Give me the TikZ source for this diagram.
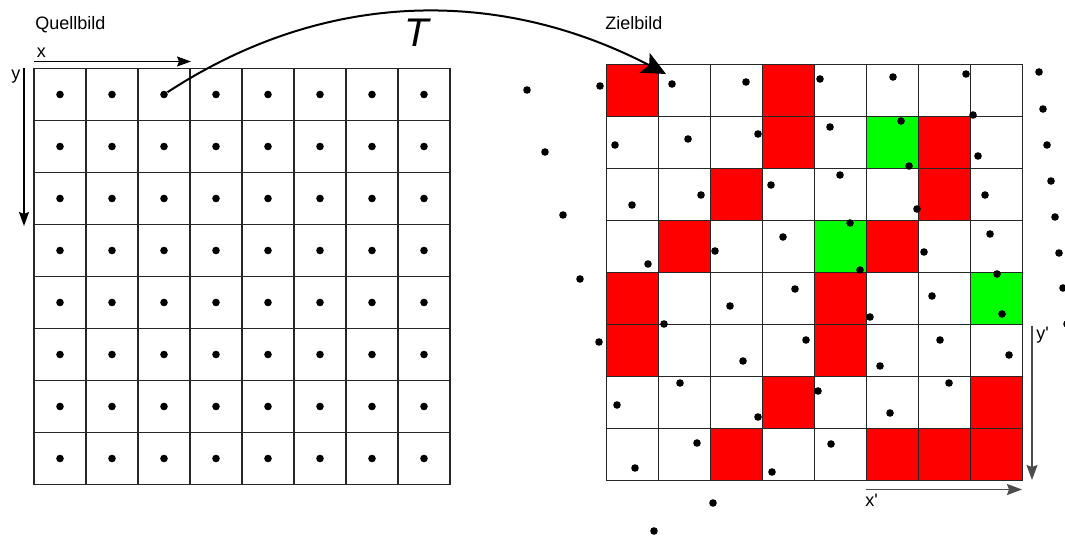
\documentclass[tikz,border=0pt]{standalone}
\usepackage{fontspec}
\setmainfont{Liberation Sans}
\usetikzlibrary{arrows.meta}

\begin{document}
\begin{tikzpicture}[x=0.5pt, y=-0.5pt,
    dot/.style={circle, fill=black, inner sep=0pt, minimum size=3.8pt},
    gridline/.style={black!85, line width=0.6pt},
    redcell/.style={fill=red},
    greencell/.style={fill=green},
    axis/.style={black, line width=0.6pt, -{Stealth[length=7pt, width=5pt, inset=1pt]}},
    axisb/.style={black!70, line width=0.75pt, -{Stealth[length=7.5pt, width=5.5pt, inset=1pt]}},
    mapping/.style={black, line width=1pt, -{Stealth[length=12pt, width=11pt, inset=2.5pt]}},
    lbl/.style={inner sep=0pt, anchor=base west, font=\fontsize{9}{11}\selectfont}]
    \useasboundingbox (0,0) rectangle (1065,539);
            % Zielbild: colored cells
            \fill[redcell] (606.5,64.5) rectangle +(52,52);
            \fill[redcell] (762.5,64.5) rectangle +(52,52);
            \fill[redcell] (762.5,116.5) rectangle +(52,52);
            \fill[greencell] (866.5,116.5) rectangle +(52,52);
            \fill[redcell] (918.5,116.5) rectangle +(52,52);
            \fill[redcell] (710.5,168.5) rectangle +(52,52);
            \fill[redcell] (918.5,168.5) rectangle +(52,52);
            \fill[redcell] (658.5,220.5) rectangle +(52,52);
            \fill[greencell] (814.5,220.5) rectangle +(52,52);
            \fill[redcell] (866.5,220.5) rectangle +(52,52);
            \fill[redcell] (606.5,272.5) rectangle +(52,52);
            \fill[redcell] (814.5,272.5) rectangle +(52,52);
            \fill[greencell] (970.5,272.5) rectangle +(52,52);
            \fill[redcell] (606.5,324.5) rectangle +(52,52);
            \fill[redcell] (814.5,324.5) rectangle +(52,52);
            \fill[redcell] (762.5,376.5) rectangle +(52,52);
            \fill[redcell] (970.5,376.5) rectangle +(52,52);
            \fill[redcell] (710.5,428.5) rectangle +(52,52);
            \fill[redcell] (866.5,428.5) rectangle +(52,52);
            \fill[redcell] (918.5,428.5) rectangle +(52,52);
            \fill[redcell] (970.5,428.5) rectangle +(52,52);
            % both grids
            \foreach \k in {0,...,8} {
                \draw[gridline] (34+52*\k,68.5) -- (34+52*\k,484.5);
                \draw[gridline] (34,68.5+52*\k) -- (450,68.5+52*\k);
                \draw[gridline] (606.5+52*\k,64.5) -- (606.5+52*\k,480.5);
                \draw[gridline] (606.5,64.5+52*\k) -- (1022.5,64.5+52*\k);
            }
            % Quellbild: sample points
            \node[dot] (s11) at (60,94.5) {};
            \node[dot] (s12) at (112,94.5) {};
            \node[dot] (s13) at (164,94.5) {};
            \node[dot] (s14) at (216,94.5) {};
            \node[dot] (s15) at (268,94.5) {};
            \node[dot] (s16) at (320,94.5) {};
            \node[dot] (s17) at (372,94.5) {};
            \node[dot] (s18) at (424,94.5) {};
            \node[dot] (s21) at (60,146.5) {};
            \node[dot] (s22) at (112,146.5) {};
            \node[dot] (s23) at (164,146.5) {};
            \node[dot] (s24) at (216,146.5) {};
            \node[dot] (s25) at (268,146.5) {};
            \node[dot] (s26) at (320,146.5) {};
            \node[dot] (s27) at (372,146.5) {};
            \node[dot] (s28) at (424,146.5) {};
            \node[dot] (s31) at (60,198.5) {};
            \node[dot] (s32) at (112,198.5) {};
            \node[dot] (s33) at (164,198.5) {};
            \node[dot] (s34) at (216,198.5) {};
            \node[dot] (s35) at (268,198.5) {};
            \node[dot] (s36) at (320,198.5) {};
            \node[dot] (s37) at (372,198.5) {};
            \node[dot] (s38) at (424,198.5) {};
            \node[dot] (s41) at (60,250.5) {};
            \node[dot] (s42) at (112,250.5) {};
            \node[dot] (s43) at (164,250.5) {};
            \node[dot] (s44) at (216,250.5) {};
            \node[dot] (s45) at (268,250.5) {};
            \node[dot] (s46) at (320,250.5) {};
            \node[dot] (s47) at (372,250.5) {};
            \node[dot] (s48) at (424,250.5) {};
            \node[dot] (s51) at (60,302.5) {};
            \node[dot] (s52) at (112,302.5) {};
            \node[dot] (s53) at (164,302.5) {};
            \node[dot] (s54) at (216,302.5) {};
            \node[dot] (s55) at (268,302.5) {};
            \node[dot] (s56) at (320,302.5) {};
            \node[dot] (s57) at (372,302.5) {};
            \node[dot] (s58) at (424,302.5) {};
            \node[dot] (s61) at (60,354.5) {};
            \node[dot] (s62) at (112,354.5) {};
            \node[dot] (s63) at (164,354.5) {};
            \node[dot] (s64) at (216,354.5) {};
            \node[dot] (s65) at (268,354.5) {};
            \node[dot] (s66) at (320,354.5) {};
            \node[dot] (s67) at (372,354.5) {};
            \node[dot] (s68) at (424,354.5) {};
            \node[dot] (s71) at (60,406.5) {};
            \node[dot] (s72) at (112,406.5) {};
            \node[dot] (s73) at (164,406.5) {};
            \node[dot] (s74) at (216,406.5) {};
            \node[dot] (s75) at (268,406.5) {};
            \node[dot] (s76) at (320,406.5) {};
            \node[dot] (s77) at (372,406.5) {};
            \node[dot] (s78) at (424,406.5) {};
            \node[dot] (s81) at (60,458.5) {};
            \node[dot] (s82) at (112,458.5) {};
            \node[dot] (s83) at (164,458.5) {};
            \node[dot] (s84) at (216,458.5) {};
            \node[dot] (s85) at (268,458.5) {};
            \node[dot] (s86) at (320,458.5) {};
            \node[dot] (s87) at (372,458.5) {};
            \node[dot] (s88) at (424,458.5) {};
            % Zielbild: transformed points
            \node[dot] (t11) at (527,90) {};
            \node[dot] (t12) at (600,86) {};
            \node[dot] (t13) at (672,84) {};
            \node[dot] (t14) at (746,82) {};
            \node[dot] (t15) at (820,79) {};
            \node[dot] (t16) at (893,77) {};
            \node[dot] (t17) at (966,74) {};
            \node[dot] (t18) at (1039,72) {};
            \node[dot] (t21) at (545,152) {};
            \node[dot] (t22) at (615,145) {};
            \node[dot] (t23) at (688,139) {};
            \node[dot] (t24) at (758,134) {};
            \node[dot] (t25) at (830,127) {};
            \node[dot] (t26) at (901,121) {};
            \node[dot] (t27) at (973,115) {};
            \node[dot] (t28) at (1043,109) {};
            \node[dot] (t31) at (563,215) {};
            \node[dot] (t32) at (632,205) {};
            \node[dot] (t33) at (701,195) {};
            \node[dot] (t34) at (771,185) {};
            \node[dot] (t35) at (840,175) {};
            \node[dot] (t36) at (909,166) {};
            \node[dot] (t37) at (978,156) {};
            \node[dot] (t38) at (1047,145) {};
            \node[dot] (t41) at (580,279) {};
            \node[dot] (t42) at (648,264) {};
            \node[dot] (t43) at (715,251) {};
            \node[dot] (t44) at (783,237) {};
            \node[dot] (t45) at (850,223) {};
            \node[dot] (t46) at (917,209) {};
            \node[dot] (t47) at (985,195) {};
            \node[dot] (t48) at (1051,181) {};
            \node[dot] (t51) at (599,342) {};
            \node[dot] (t52) at (664,324) {};
            \node[dot] (t53) at (730,306) {};
            \node[dot] (t54) at (795,289) {};
            \node[dot] (t55) at (860,270) {};
            \node[dot] (t56) at (924,252) {};
            \node[dot] (t57) at (990,234) {};
            \node[dot] (t58) at (1055,217) {};
            \node[dot] (t61) at (617,405) {};
            \node[dot] (t62) at (680,383) {};
            \node[dot] (t63) at (743,361) {};
            \node[dot] (t64) at (806,340) {};
            \node[dot] (t65) at (870,317) {};
            \node[dot] (t66) at (932,296) {};
            \node[dot] (t67) at (997,274) {};
            \node[dot] (t68) at (1059,253) {};
            \node[dot] (t71) at (635,468) {};
            \node[dot] (t72) at (697,443) {};
            \node[dot] (t73) at (758,417) {};
            \node[dot] (t74) at (818,391) {};
            \node[dot] (t75) at (880,366) {};
            \node[dot] (t76) at (940,340) {};
            \node[dot] (t77) at (1002,314) {};
            \node[dot] (t78) at (1063,288) {};
            \node[dot] (t81) at (654,531) {};
            \node[dot] (t82) at (713,503) {};
            \node[dot] (t83) at (772,472) {};
            \node[dot] (t84) at (831,444) {};
            \node[dot] (t85) at (890,413) {};
            \node[dot] (t86) at (949,383) {};
            \node[dot] (t87) at (1009,355) {};
            \node[dot] (t88) at (1067,324) {};
            % axes
            \coordinate (xs) at (34,61.5);
            \coordinate (xe) at (191,61.5);
            \coordinate (ys) at (24,68.5);
            \coordinate (ye) at (24,226);
            \coordinate (ys2) at (1032,326);
            \coordinate (ye2) at (1032,480);
            \coordinate (xs2) at (865.5,489.5);
            \coordinate (xe2) at (1022,489.5);
            \draw[axis] (xs) -- (xe);
            \draw[axis] (ys) -- (ye);
            \draw[axisb] (ys2) -- (ye2);
            \draw[axisb] (xs2) -- (xe2);
            \node[lbl] (xl) at (36.5,57.5) {x};
            \node[lbl] (yl) at (11,79.5) {y};
            \node[lbl] (yl2) at (1036,340) {y\textquotesingle};
            \node[lbl] (xl2) at (865,506) {x\textquotesingle};
            \node[lbl] (quelle) at (35,29.5) {Quellbild};
            \node[lbl] (ziel) at (605,30) {Zielbild};
            % mapping T
            \coordinate (tip) at (666,74);
            \draw[mapping] (s13) .. controls (330,-14) and (505,-10) .. (tip);
            \node[inner sep=0pt, anchor=base west, font=\fontsize{20}{24}\selectfont\itshape] (tl) at (404,46.5) {T};
        \end{tikzpicture}
\end{document}
